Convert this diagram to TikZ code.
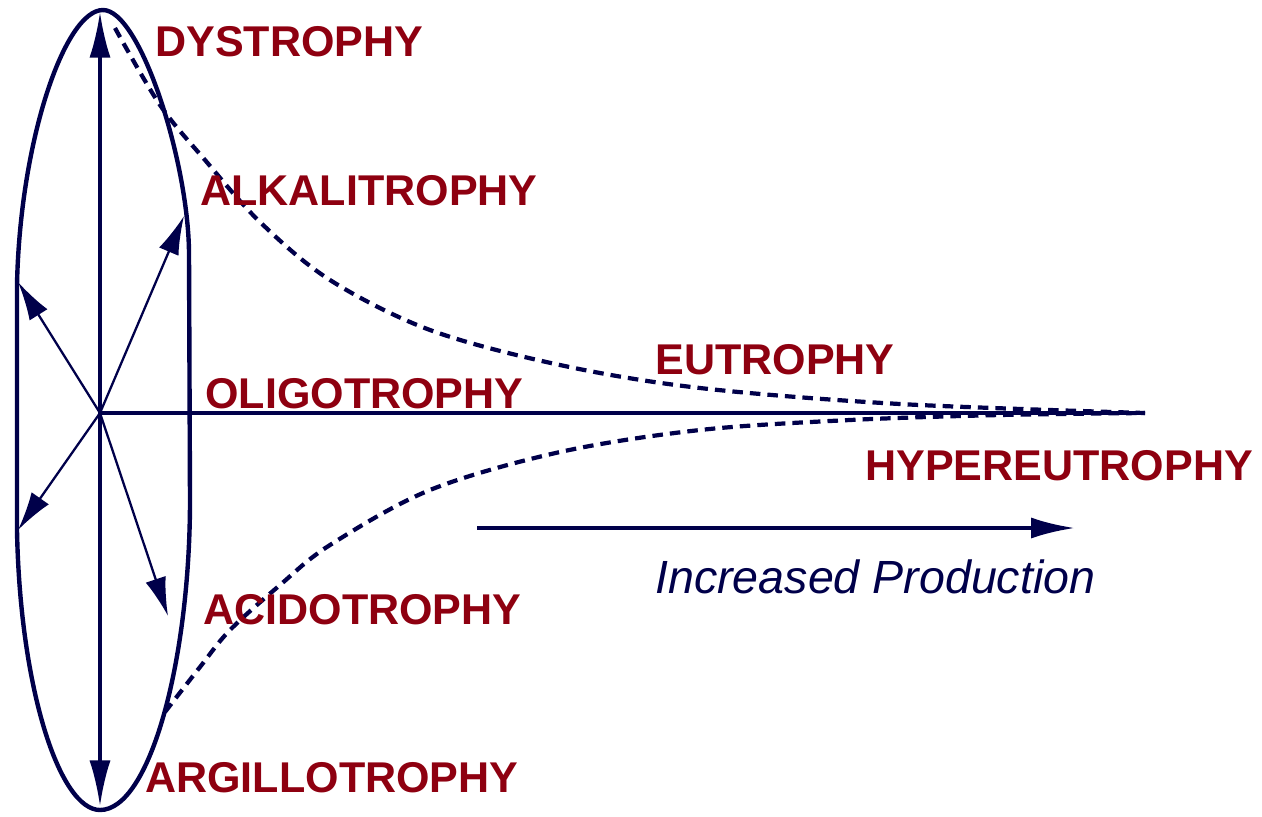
\documentclass[tikz,border=0pt]{standalone}
\usepackage{fontspec}
\setmainfont{Liberation Sans}
\usetikzlibrary{arrows.meta}
\definecolor{trophRed}{HTML}{8E0010}
\definecolor{trophNavy}{HTML}{00004A}

\begin{document}
\begin{tikzpicture}[x=0.02cm, y=-0.02cm,
  troph/.style={anchor=west, inner sep=0pt, text=trophRed, font=\fontsize{24.5}{28}\selectfont\bfseries},
  spoke/.style={draw=trophNavy, line width=1.3pt, -{Latex[length=22pt, width=12pt]}},
  trend/.style={draw=trophNavy, line width=2.4pt, dash pattern=on 6pt off 4pt}]
  \useasboundingbox (0,0) rectangle (1262,816);
  % the oval
  \draw[trophNavy, line width=2.5pt] (103,10) .. controls (140,10) and (188,160) .. (189,252)
    -- (190,500) .. controls (190,660) and (150,810) .. (100,810)
    .. controls (60,810) and (20,690) .. (17,530) -- (17,285)
    .. controls (20,140) and (65,10) .. (103,10) -- cycle;
  % spokes from the hub
  \coordinate (hub) at (100,413);
  \coordinate (top) at (100,12);
  \coordinate (bottom) at (100,806);
  \coordinate (alk) at (184,216);
  \coordinate (acid) at (168,616);
  \coordinate (upl) at (18,282);
  \coordinate (lowl) at (18,530);
  \coordinate (far) at (1145,413);
  \draw[spoke, line width=1.9pt, -{Latex[length=26pt, width=12pt]}] (hub) -- (top);
  \draw[spoke, line width=1.9pt, -{Latex[length=26pt, width=12pt]}] (hub) -- (bottom);
  \foreach \tip in {alk,acid,upl,lowl} \draw[spoke] (hub) -- (\tip);
  \draw[trophNavy, line width=1.9pt] (hub) -- (far);
  % dashed trends
  \coordinate (dysStart) at (115,28);
  \coordinate (argStart) at (165,712);
  \draw[trend] plot[smooth, tension=0.55] coordinates {(dysStart) (160,105) (205,160) (260,222) (330,280) (430,330) (560,365) (700,388) (900,404) (far)};
  \draw[trend] plot[smooth, tension=0.55] coordinates {(argStart) (200,667) (230,630) (280,585) (330,545) (430,490) (560,452) (700,430) (850,420) (1000,415) (far)};
  % production arrow
  \coordinate (prodFrom) at (477,528);
  \coordinate (prodTo) at (1075,528);
  \draw[trophNavy, line width=2.3pt, -{Latex[length=25pt, width=12pt]}] (prodFrom) -- (prodTo);
  % labels
  \node[troph] (dys) at (155,42) {DYSTROPHY};
  \node[troph] (alkali) at (200,191) {ALKALITROPHY};
  \node[troph] (oligo) at (205,394) {OLIGOTROPHY};
  \node[troph] (eutro) at (655,360) {EUTROPHY};
  \node[troph] (hyper) at (865,466) {HYPEREUTROPHY};
  \node[troph] (acido) at (203,610) {ACIDOTROPHY};
  \node[troph] (argil) at (145,778) {ARGILLOTROPHY};
  \node[anchor=west, inner sep=0pt, text=trophNavy, font=\fontsize{26.5}{30}\selectfont\itshape] (prod) at (655,577) {Increased Production};
\end{tikzpicture}
\end{document}
